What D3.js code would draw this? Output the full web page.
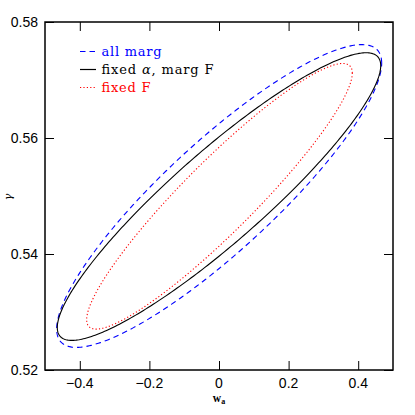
<!DOCTYPE html>
<html><head><meta charset="utf-8">
<script src="https://cdn.jsdelivr.net/npm/d3@7"></script>
<style>body{margin:0;background:#fff}svg{display:block}</style>
</head><body>
<svg id="c" width="415" height="415"></svg>
<script>
// Data
const contourNames = ["all marg", "fixed \u03b1, marg F", "fixed F"];
const contourColors = ["#0000ff", "#000000", "#ff0000"];
const centerWa = [0.0005, 0.0, 0.0014];
const centerGamma = [0.5500, 0.5499, 0.54995];
const halfWidthWa = [0.467, 0.4647, 0.3816];
const halfWidthGamma = [0.0261, 0.0248, 0.0229];
const correlation = [0.878, 0.910, 0.928];
const xTicks = [-0.4, -0.2, 0, 0.2, 0.4];
const yTicks = [0.52, 0.54, 0.56, 0.58];

const svg = d3.select("#c");
const L = 45, R = 393, T = 22, B = 370;
const x = d3.scaleLinear().domain([-0.5, 0.5]).range([L, R]);
const y = d3.scaleLinear().domain([0.52, 0.58]).range([B, T]);

const dashes = ["5.5,4", null, "1.2,2.2"];
const N = 360;
const angles = d3.range(N + 1).map(i => 2 * Math.PI * i / N);
const line = d3.line().x(d => x(d[0])).y(d => y(d[1])).curve(d3.curveLinear);
contourNames.forEach((name, k) => {
  const pts = angles.map(t => [
    centerWa[k] + halfWidthWa[k] * Math.cos(t),
    centerGamma[k] + halfWidthGamma[k] * (correlation[k] * Math.cos(t) + Math.sqrt(1 - correlation[k] ** 2) * Math.sin(t))
  ]);
  svg.append("path").attr("d", line(pts)).attr("fill", "none")
    .attr("stroke", contourColors[k]).attr("stroke-width", 1.1)
    .attr("stroke-dasharray", dashes[k]);
});

// axes with inward ticks on all four sides
const g = svg.append("g");
function ticks(axisFn, scale, tr, major, minor) {
  const a = g.append("g").attr("transform", tr);
  a.call(axisFn(scale).tickValues(minor).tickSize(-5).tickFormat(""));
  a.call(axisFn(scale).tickValues(major).tickSize(-9).tickFormat(""));
  a.selectAll(".domain").remove();
  a.selectAll("line").attr("stroke", "#000").attr("stroke-width", 1);
  return a;
}
const xMinor = d3.range(-0.45, 0.5, 0.05).map(v => +v.toFixed(2));
const yMinor = d3.range(0.525, 0.58, 0.005).map(v => +v.toFixed(3));
ticks(d3.axisBottom, x, `translate(0,${B})`, xTicks, xMinor);
ticks(d3.axisTop, x, `translate(0,${T})`, xTicks, xMinor);
ticks(d3.axisLeft, y, `translate(${L},0)`, yTicks, yMinor);
ticks(d3.axisRight, y, `translate(${R},0)`, yTicks, yMinor);
g.append("rect").attr("x", L).attr("y", T).attr("width", R - L).attr("height", B - T)
  .attr("fill", "none").attr("stroke", "#000").attr("stroke-width", 1.5);

const fmtX = v => (v < 0 ? "\u2212" : "") + (v === 0 ? "0" : Math.abs(v).toFixed(1));
g.selectAll(".xl").data(xTicks).enter().append("text")
  .attr("x", d => x(d)).attr("y", 387.5).attr("text-anchor", "middle")
  .attr("font-family", "Liberation Sans, Arial, sans-serif").attr("font-size", 14)
  .text(fmtX);
g.selectAll(".yl").data(yTicks).enter().append("text")
  .attr("x", 38).attr("y", d => y(d) + 5).attr("text-anchor", "end")
  .attr("font-family", "Liberation Sans, Arial, sans-serif").attr("font-size", 14)
  .text(d => d.toFixed(2));

// axis titles
const xt = svg.append("text").attr("x", 219).attr("y", 401.5).attr("text-anchor", "middle")
  .attr("font-family", "Liberation Serif, serif").attr("font-size", 11.5).attr("font-weight", "bold");
xt.append("tspan").text("w");
xt.append("tspan").attr("font-size", 8).attr("dy", 2.5).text("a");
svg.append("text").attr("transform", "translate(11.5,197) rotate(-90)").attr("text-anchor", "middle")
  .attr("font-family", "DejaVu Serif, serif").attr("font-size", 11).attr("font-style", "italic").text("\u03b3");

// legend
const legY = [51.5, 69.5, 87.5];
const legWidth = [60, 112, 49];
contourNames.forEach((name, k) => {
  svg.append("line").attr("x1", 80).attr("x2", 96).attr("y1", legY[k]).attr("y2", legY[k])
    .attr("stroke", contourColors[k]).attr("stroke-width", 1.2).attr("stroke-dasharray", dashes[k]);
  const t = svg.append("text").attr("x", 101.5).attr("y", legY[k] + 4.5)
    .attr("font-family", "DejaVu Serif, serif").attr("font-size", 13)
    .attr("textLength", legWidth[k]).attr("lengthAdjust", "spacing")
    .attr("fill", contourColors[k]);
  const parts = name.split("\u03b1");
  t.append("tspan").text(parts[0]);
  if (parts.length > 1) {
    t.append("tspan").attr("font-style", "italic").text("\u03b1");
    t.append("tspan").text(parts[1]);
  }
});
</script>
</body></html>
